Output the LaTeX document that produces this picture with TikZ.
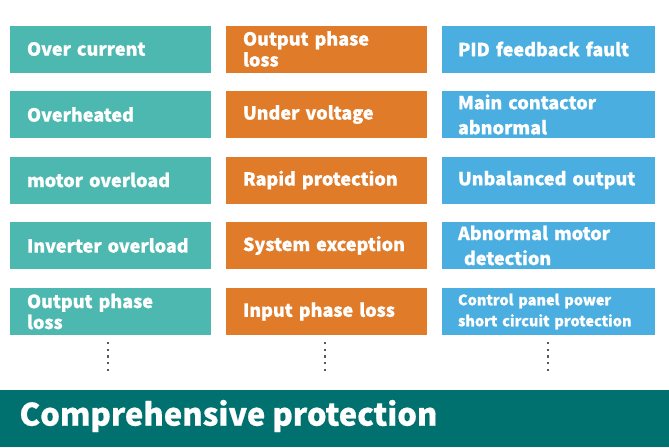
\documentclass[tikz,border=0pt]{standalone}
\usepackage{fontspec}
\setmainfont[FakeBold=0.7]{Noto Sans CJK SC}
\begin{document}
\begin{tikzpicture}[x=1pt,y=-1pt,
 box/.style={draw=none,minimum width=201pt,minimum height=47pt,text=white,font=\bfseries\fontsize{18}{21}\selectfont,align=left,inner xsep=17pt,text width=167pt},
 t/.style={box,fill=teal1},o/.style={box,fill=orange1},
 b/.style={box,fill=blue1,minimum width=213pt,text width=181pt,inner xsep=16pt},
 dots/.style={line width=2.2pt,dash pattern=on 2.2pt off 4.5pt,color=gray!70!black}]
\definecolor{teal1}{HTML}{4DB8B0}\definecolor{orange1}{HTML}{E07B2A}\definecolor{blue1}{HTML}{4AAEE0}\definecolor{band}{HTML}{00716F}
\useasboundingbox (0,0) rectangle (669,447);
\fill[white] (0,0) rectangle (669,447);
\node[t] (a1) at (110.5,49) {Over current};
\node[t] (a2) at (110.5,114.5) {Overheated};
\node[t] (a3) at (110.5,180) {motor overload};
\node[t] (a4) at (110.5,245.5) {Inverter overload};
\node[t] (a5) at (110.5,311.5) {Output phase loss};
\node[o] (b1) at (326.5,49) {Output phase loss};
\node[o] (b2) at (326.5,114.5) {Under voltage};
\node[o] (b3) at (326.5,180) {Rapid protection};
\node[o] (b4) at (326.5,245.5) {System exception};
\node[o] (b5) at (326.5,311.5) {Input phase loss};
\node[b] (c1) at (548.5,49) {PID feedback fault};
\node[b,font=\bfseries\fontsize{18}{25}\selectfont] (c2) at (548.5,114.5) {Main contactor\\abnormal};
\node[b] (c3) at (548.5,180) {Unbalanced output};
\node[b,font=\bfseries\fontsize{18}{25}\selectfont] (c4) at (548.5,245.5) {Abnormal motor\\\ detection};
\node[b,font=\bfseries\fontsize{14.5}{21}\selectfont] (c5) at (548.5,311.5) {Control panel power\\short circuit protection};
\coordinate (d1) at (108,342);\coordinate (e1) at (108,374);
\coordinate (d2) at (325,342);\coordinate (e2) at (325,374);
\coordinate (d3) at (548,342);\coordinate (e3) at (548,374);
\draw[dots] (d1)--(e1);\draw[dots] (d2)--(e2);\draw[dots] (d3)--(e3);
\fill[band] (0,390) rectangle (669,447);
\node[anchor=west,text=white,font=\bfseries\fontsize{31}{34}\selectfont] (title) at (16,416) {Comprehensive protection};
\end{tikzpicture}
\end{document}
